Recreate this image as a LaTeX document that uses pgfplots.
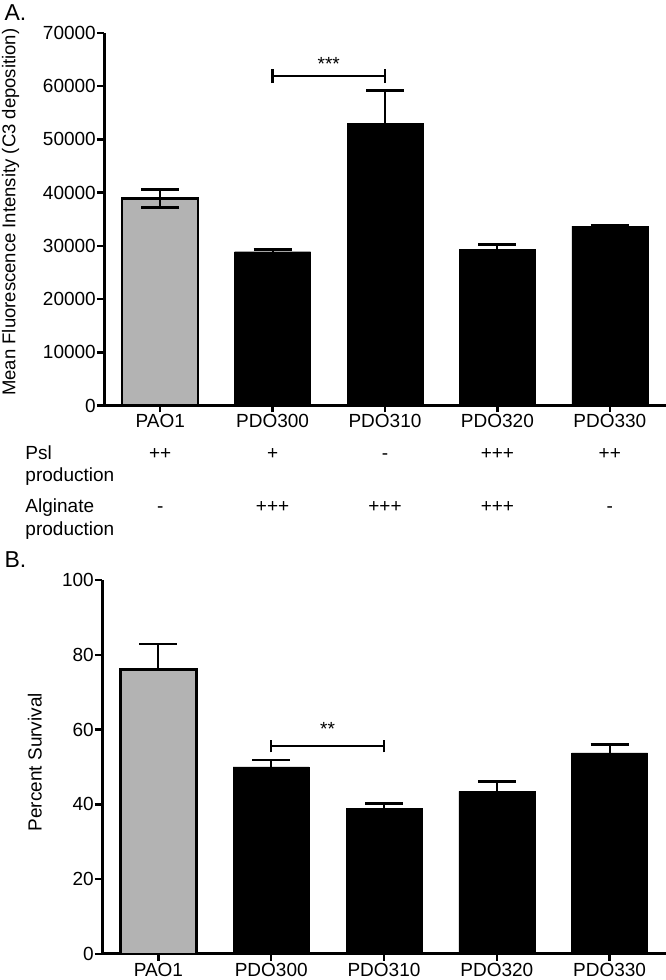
\documentclass[border=0pt]{standalone}
\usepackage{fontspec}
\setmainfont{Liberation Sans}
\usepackage{pgfplots}
\pgfplotsset{compat=1.18}
\definecolor{barg}{HTML}{B3B3B3}
\newcommand{\fs}{\fontsize{19}{22}\selectfont}
\begin{document}
\begin{tikzpicture}
\useasboundingbox (0,0) rectangle (666pt,980pt);
\pgfplotsset{
  myaxis/.style={
    scale only axis,
    xmin=-0.5, xmax=4.5,
    axis x line*=bottom, axis y line*=left,
    axis line style={line width=3pt},
    every tick/.style={black, line width=2.5pt},
    tick align=outside,
    major tick length=7pt,
    xtick={0,1,2,3,4},
    xticklabels={PAO1,PDO300,PDO310,PDO320,PDO330},
    tick label style={font=\fs},
    scaled y ticks=false,
    /pgf/number format/assume math mode=true,
    yticklabel style={/pgf/number format/fixed, /pgf/number format/1000 sep={}, inner sep=1pt},
    xticklabel style={inner sep=2pt},
    clip=false,
    ybar, bar width=76pt,
    error bars/error bar style={line width=2pt, black},
    error bars/error mark options={line width=2.5pt, mark size=19pt, black, rotate=90},
  }
}
% ---------- Panel A ----------
\begin{axis}[myaxis,
  at={(104pt,574.5pt)}, anchor=south west,
  width=562pt, height=372.5pt,
  ymin=0, ymax=70000,
  ytick={0,10000,20000,30000,40000,50000,60000,70000},
  every axis y label/.style={at={(axis description cs:-0.166,0.519)}, rotate=90, anchor=center, font=\fontsize{18.5}{22}\selectfont},
  ylabel={Mean Fluorescence Intensity (C3 deposition)},
]
\addplot[bar shift=0pt, fill=barg, draw=black, line width=2.5pt,
  error bars/.cd, y dir=both, y explicit]
  coordinates {(0,38900) +- (0,1700)};
\addplot[bar shift=0pt, fill=black, draw=black,
  error bars/.cd, y dir=both, y explicit]
  coordinates {(1,28900) +- (0,400) (2,53000) +- (0,6200) (3,29400) +- (0,900) (4,33700) +- (0,200)};
% significance
\draw[line width=2.5pt] (axis cs:1,61900) -- (axis cs:2,61900);
\draw[line width=2.5pt] (axis cs:1,60600) -- (axis cs:1,63200);
\draw[line width=2.5pt] (axis cs:2,60600) -- (axis cs:2,63200);
\node[font=\fs] at (axis cs:1.5,64200) {***};
% table rows
\node[anchor=base west, font=\fs] at (axis cs:-1.23,-10240) {Psl};
\node[anchor=base west, font=\fs] at (axis cs:-1.23,-14190) {production};
\node[anchor=base west, font=\fs] at (axis cs:-1.23,-20200) {Alginate};
\node[anchor=base west, font=\fs] at (axis cs:-1.23,-24340) {production};
\node[anchor=base, font=\fs] at (axis cs:0,-10240) {++};
\node[anchor=base, font=\fs] at (axis cs:1,-10240) {+};
\node[anchor=base, font=\fs] at (axis cs:2,-10240) {-};
\node[anchor=base, font=\fs] at (axis cs:3,-10240) {+++};
\node[anchor=base, font=\fs] at (axis cs:4,-10240) {++};
\node[anchor=base, font=\fs] at (axis cs:0,-20200) {-};
\node[anchor=base, font=\fs] at (axis cs:1,-20200) {+++};
\node[anchor=base, font=\fs] at (axis cs:2,-20200) {+++};
\node[anchor=base, font=\fs] at (axis cs:3,-20200) {+++};
\node[anchor=base, font=\fs] at (axis cs:4,-20200) {-};
\end{axis}
% ---------- Panel B ----------
\begin{axis}[myaxis,
  at={(102pt,26pt)}, anchor=south west,
  width=564pt, height=374pt,
  ymin=0, ymax=100,
  ytick={0,20,40,60,80,100},
  every axis y label/.style={at={(axis description cs:-0.119,0.513)}, rotate=90, anchor=center, font=\fs},
  ylabel={Percent Survival},
]
\addplot[bar shift=0pt, fill=barg, draw=black, line width=2.5pt,
  error bars/.cd, y dir=plus, y explicit]
  coordinates {(0,76.1) +- (0,6.8)};
\addplot[bar shift=0pt, fill=black, draw=black,
  error bars/.cd, y dir=plus, y explicit]
  coordinates {(1,50.0) +- (0,1.9) (2,39.0) +- (0,1.2) (3,43.5) +- (0,2.6) (4,53.8) +- (0,2.2)};
\draw[line width=2.5pt] (axis cs:1,55.6) -- (axis cs:2,55.6);
\draw[line width=2.5pt] (axis cs:1,53.9) -- (axis cs:1,57.3);
\draw[line width=2.5pt] (axis cs:2,53.9) -- (axis cs:2,57.3);
\node[font=\fs] at (axis cs:1.5,60.3) {**};
\end{axis}
\node[anchor=base west, font=\fontsize{23}{27}\selectfont] at (1pt,959pt) {A.};
\node[anchor=base west, font=\fontsize{23}{27}\selectfont] at (1pt,412pt) {B.};
\end{tikzpicture}
\end{document}
